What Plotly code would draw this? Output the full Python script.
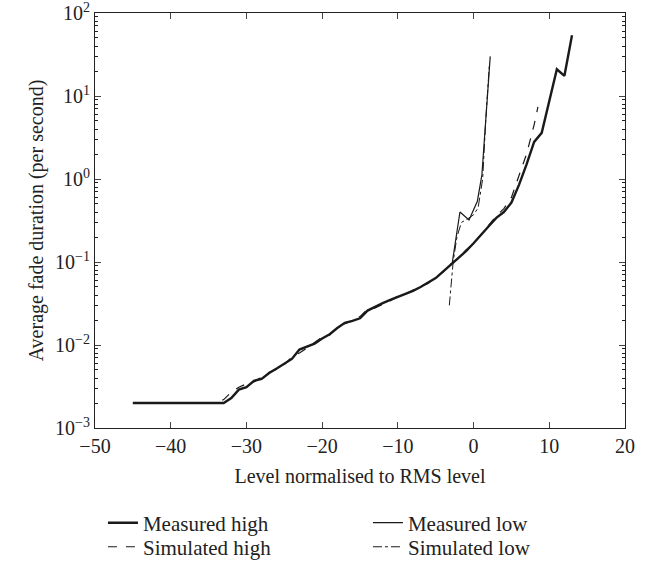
import plotly.graph_objects as go

# Measured high
mh_x = [-45, -33, -32, -31, -30, -29, -28, -27, -26, -25, -24, -23, -22, -21, -20, -19, -18, -17, -16, -15,
        -14, -13, -12, -11, -10, -9, -8, -7, -6, -5, -4, -3, -2, -1, 0, 1, 2, 3, 4, 5, 6, 7, 8, 9, 10, 11, 12, 13]
mh_y = [0.002, 0.002, 0.0023, 0.0029, 0.0031, 0.0037, 0.0039, 0.0046, 0.0052, 0.006, 0.0068, 0.0088, 0.0095,
        0.0104, 0.012, 0.0135, 0.016, 0.0185, 0.0195, 0.021, 0.026, 0.029, 0.032, 0.035, 0.038, 0.042, 0.045,
        0.05, 0.056, 0.064, 0.077, 0.093, 0.112, 0.135, 0.168, 0.21, 0.27, 0.34, 0.40, 0.52, 0.85, 1.5, 2.8,
        3.6, 8.5, 21, 17.5, 54]

# Measured low
ml_x = [-2.8, -1.8, -0.6, 0.5, 1.1, 2.2]
ml_y = [0.1, 0.4, 0.32, 0.54, 1.12, 30]

# Simulated high
sh_x = [-45, -34, -33, -32, -31, -30, -29, -28, -27, -26, -25, -24, -23, -22, -21, -20, -19, -18, -17, -16,
        -15, -14, -13, -12, -11, -10, -9, -8, -7, -6, -5, -4, -3, -2, -1, 0, 1, 2, 3, 4, 5, 6, 7, 8, 8.5]
sh_y = [0.002, 0.002, 0.0022, 0.0027, 0.0031, 0.0034, 0.0036, 0.0041, 0.0047, 0.0051, 0.0058, 0.0072, 0.008,
        0.0092, 0.0108, 0.0125, 0.0132, 0.0165, 0.018, 0.0195, 0.022, 0.027, 0.028, 0.031, 0.034, 0.039, 0.041,
        0.046, 0.051, 0.055, 0.065, 0.076, 0.095, 0.11, 0.14, 0.165, 0.215, 0.28, 0.36, 0.44, 0.6, 1.1, 2.0,
        4.5, 7.4]

# Simulated low
sl_x = [-3.2, -2.7, -2.2, -1.6, -0.8, 0.0, 0.6, 1.2, 1.6, 2.1]
sl_y = [0.03, 0.1, 0.2, 0.3, 0.33, 0.37, 0.45, 1.0, 5, 25]

y_tickvals = [1e-3, 1e-2, 1e-1, 1, 10, 100]
y_ticktext = ["10<sup>−3</sup>", "10<sup>−2</sup>", "10<sup>−1</sup>", "10<sup>0</sup>", "10<sup>1</sup>", "10<sup>2</sup>"]
y_minor_vals = [m * 10.0 ** e for e in range(-3, 2) for m in range(2, 10)]
x_tickvals = [-50, -40, -30, -20, -10, 0, 10, 20]
x_ticktext = ["−50", "−40", "−30", "−20", "−10", "0", "10", "20"]

ink = "#1a1a1a"
font = "Liberation Serif"

fig = go.Figure()
fig.add_trace(go.Scatter(x=mh_x, y=mh_y, mode="lines", name="Measured high", legend="legend",
                         line=dict(color=ink, width=2.4)))
fig.add_trace(go.Scatter(x=ml_x, y=ml_y, mode="lines", name="Measured low", legend="legend",
                         line=dict(color=ink, width=1.2)))
fig.add_trace(go.Scatter(x=sh_x, y=sh_y, mode="lines", name="Simulated high", legend="legend2",
                         line=dict(color=ink, width=1.2, dash="dash")))
fig.add_trace(go.Scatter(x=sl_x, y=sl_y, mode="lines", name="Simulated low", legend="legend2",
                         line=dict(color=ink, width=1.0, dash="dashdot")))

leg_common = dict(orientation="h", x=0.015, xanchor="left", yanchor="middle",
                  entrywidth=220, entrywidthmode="pixels", tracegroupgap=0,
                  font=dict(family=font, size=21, color="#222"), bgcolor="rgba(0,0,0,0)")

fig.update_layout(
    width=661, height=569,
    margin=dict(l=95, r=36, t=13, b=141, autoexpand=False),
    paper_bgcolor="white", plot_bgcolor="white",
    font=dict(family=font, size=20, color="#222"),
    showlegend=True,
    legend=dict(**leg_common, y=-0.229),
    legend2=dict(**leg_common, y=-0.287),
    xaxis=dict(range=[-50, 20], tickvals=x_tickvals, ticktext=x_ticktext, ticks="inside", ticklen=6,
               showline=True, linecolor="#222", linewidth=1, mirror="ticks", showgrid=False, zeroline=False,
               automargin=False, ticklabeloverflow="allow",
               title=dict(text="Level normalised to RMS level", standoff=12, font=dict(family=font, size=20)),
               tickfont=dict(family=font, size=20)),
    yaxis=dict(type="log", range=[-3, 2], tickvals=y_tickvals, ticktext=y_ticktext,
               ticks="inside", ticklen=6, automargin=False, ticklabeloverflow="allow",
               showline=True, linecolor="#222", linewidth=1, mirror="ticks", showgrid=False, zeroline=False,
               title=dict(text="Average fade duration (per second)", standoff=6, font=dict(family=font, size=20)),
               tickfont=dict(family=font, size=20),
               minor=dict(tickmode="array", tickvals=y_minor_vals, ticks="inside", ticklen=3,
                          tickcolor="#222", showgrid=False)),
)

fig.write_html("out.html")
